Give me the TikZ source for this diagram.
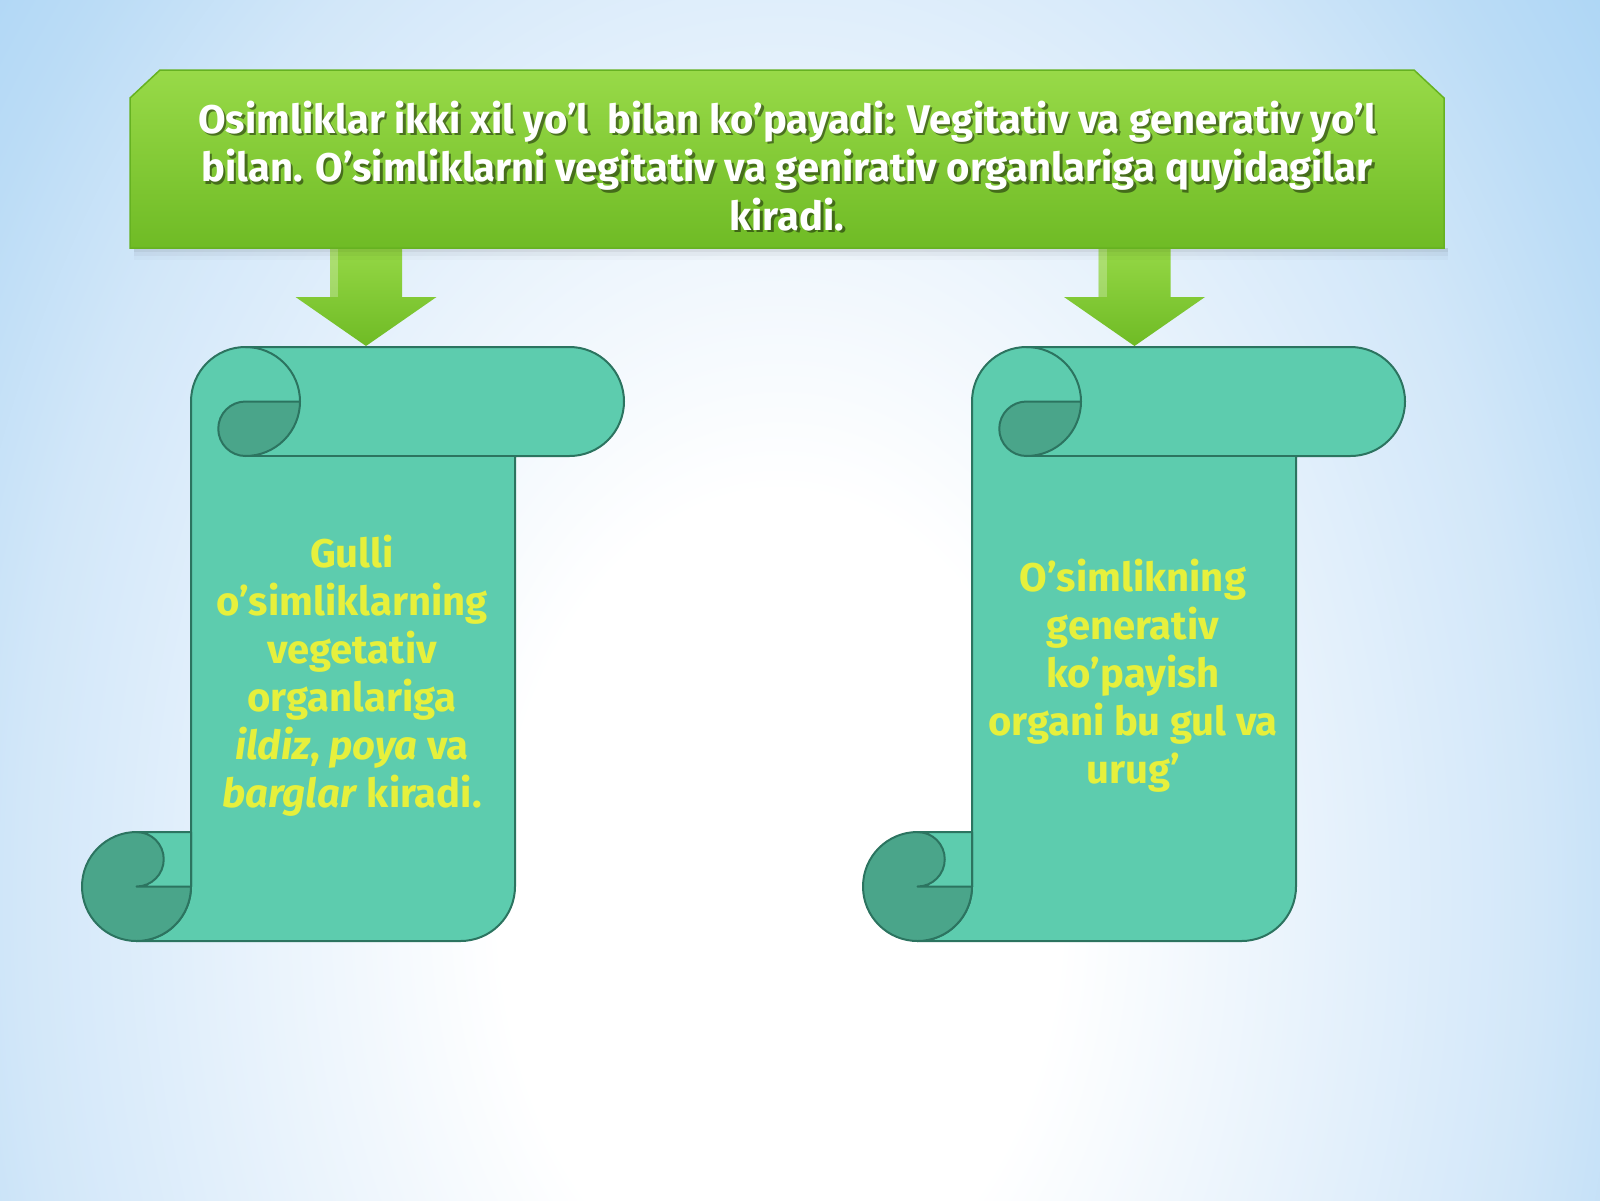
\documentclass[tikz,border=0pt]{standalone}
\usepackage{fontspec}
\setmainfont{Fira Sans}
\usetikzlibrary{positioning}
\definecolor{bgblue}{HTML}{A9D4F5}
\definecolor{bgedge}{HTML}{BBDCF6}
\definecolor{bgmid}{HTML}{D2E7F9}
\definecolor{bglight}{HTML}{E9F3FC}
\definecolor{boxtop}{HTML}{98DA48}
\definecolor{boxbot}{HTML}{6FBB25}
\definecolor{boxline}{HTML}{66B221}
\definecolor{scrolllt}{HTML}{5DCCAE}
\definecolor{scrolldk}{HTML}{4AA58A}
\definecolor{scrollln}{HTML}{2C7460}
\definecolor{textyel}{HTML}{E6F03C}
\pgfdeclareradialshading{bgglow}{\pgfpoint{0bp}{0bp}}{color(0bp)=(white); color(7bp)=(white); color(13bp)=(bglight); color(19bp)=(bgmid); color(23bp)=(bgedge); color(27bp)=(bgblue); color(50bp)=(bgblue)}
\tikzset{
  scrolllight/.style={fill=scrolllt, draw=scrollln, line width=2pt, line join=round},
  scrolldark/.style={fill=scrolldk, draw=scrollln, line width=2pt, line join=round},
  scrollline/.style={draw=scrollln, line width=2pt},
  titletext/.style={text=white, font=\fontsize{40}{48.5}\selectfont\bfseries, align=center},
  scrolltext/.style={text=textyel, font=\fontsize{40}{48}\selectfont\bfseries, align=center},
  downarrow/.style={top color=boxtop, bottom color=boxbot},
  pics/scroll/.style={code={
    \draw[scrolllight] (109,54.5) arc[start angle=180,end angle=270,radius=54.5]
      -- (487.5,0) arc[start angle=270,end angle=450,radius=54.5]
      -- (433,109) -- (433,539.5) arc[start angle=0,end angle=90,radius=54.5]
      -- (54.5,594) arc[start angle=90,end angle=0,radius=54.5] -- cycle;
    \draw[scrollline] (163.5,109) -- (433,109);
    \draw[scrollline] (163.5,0) arc[start angle=270,end angle=360,radius=54.5];
    \draw[scrolldark] (218,54.5) arc[start angle=0,end angle=90,radius=54.5]
      arc[start angle=90,end angle=270,radius=27.25] -- cycle;
    \draw[scrolldark] (54.5,539.5) circle[radius=54.5];
    \draw[scrolllight] (54.5,485) -- (109,485) -- (109,539.5) -- (54.5,539.5)
      arc[start angle=90,end angle=-90,radius=27.25] -- cycle;
  }},
  pics/blockarrow/.style={code={
    \shade[downarrow] (-36,0) -- (36,0) -- (36,57) -- (70.5,57) -- (0,106) -- (-70.5,57) -- (-36,57) -- cycle;
    \fill[white, opacity=0.25] (-36,0) rectangle (-28,57);
  }}
}
\newcommand\titlestr{Osimliklar ikki xil yo’l\ \ bilan ko’payadi: Vegitativ va generativ yo’l\\
  bilan. O’simliklarni vegitativ va genirativ organlariga quyidagilar\\ kiradi.}
\begin{document}
\begin{tikzpicture}[x=1pt,y=-1pt]
\useasboundingbox (0,0) rectangle (1600,1200);
\begin{scope}
  \clip (0,0) rectangle (1600,1200);
  \shade[shading=bgglow] (-220,-550) rectangle (1780,2350);
\end{scope}

\pic at (366,240) {blockarrow};
\pic at (1134.5,240) {blockarrow};

\foreach \d/\o in {4/0.05, 8/0.035, 12/0.02}
  \fill[black, opacity=\o] (134,248) rectangle (1448,248+\d);
\shade[top color=boxtop, bottom color=boxbot, draw=boxline, line width=1.5pt]
  (130,98) -- (160,70) -- (1414,70) -- (1444,98) -- (1444,248) -- (130,248) -- cycle;
\node[titletext, text=black, opacity=0.45] (titleshadow) at (789.5,168.5) {\titlestr};
\node[titletext] (title) at (787,166) {\titlestr};

\pic at (82,347) {scroll};
\pic at (863,347) {scroll};

\node[scrolltext] (vegtext) at (352,676) {Gulli\\ o’simliklarning\\ vegetativ\\ organlariga\\
  \textit{ildiz}, \textit{poya} va\\ \textit{barglar} kiradi.};
\node[scrolltext] (gentext) at (1133,676) {O’simlikning\\ generativ\\ ko’payish\\
  organi bu gul va\\ urug’};
\end{tikzpicture}
\end{document}
